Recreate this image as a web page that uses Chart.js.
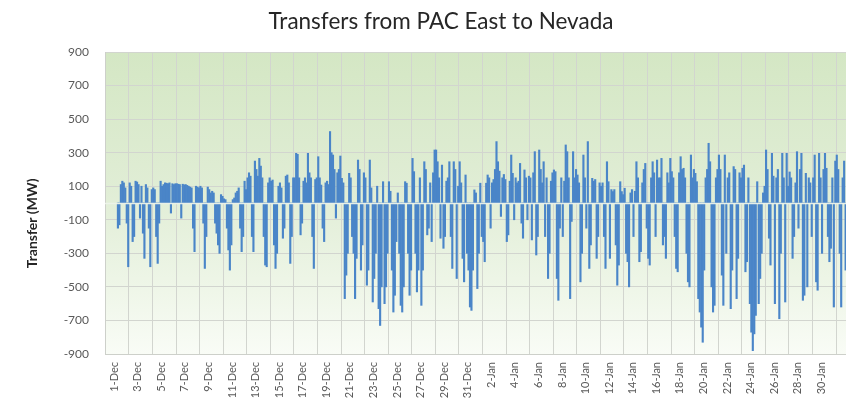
<!DOCTYPE html>
<html>
<head>
<meta charset="utf-8">
<script src="https://cdn.jsdelivr.net/npm/chart.js@4.4.1/dist/chart.umd.min.js"></script>
<style>
    html, body { margin: 0; padding: 0; background: #fff; overflow: hidden; }
    #wrap { width: 898px; height: 412px; }
</style>
</head>
<body>
<div id="wrap"><canvas id="transferChart" width="898" height="412"></canvas></div>
<script>
// Libellés de l'axe X (un tous les deux jours)
const dayLabels = [
    '1-Dec', '3-Dec', '5-Dec', '7-Dec', '9-Dec', '11-Dec', '13-Dec', '15-Dec',
    '17-Dec', '19-Dec', '21-Dec', '23-Dec', '25-Dec', '27-Dec', '29-Dec', '31-Dec',
    '2-Jan', '4-Jan', '6-Jan', '8-Jan', '10-Jan', '12-Jan', '14-Jan', '16-Jan',
    '18-Jan', '20-Jan', '22-Jan', '24-Jan', '26-Jan', '28-Jan', '30-Jan'
];
const yTicks = [900, 700, 500, 300, 100, -100, -300, -500, -700, -900];

// Transferts (MW), 8 relevés par jour (blocs de 3 heures)
const decTransfers = [
    [-150, -130, 110, 130, 120, 90, -120, -380],
    [120, 100, -230, -200, 130, 125, 110, -90],
    [100, -180, -330, 110, 90, -150, -380, 80],
    [90, 80, -200, -360, -120, 130, 100, 110],
    [120, 118, 115, 120, -60, 115, 110, 115],
    [115, 112, 110, -90, 112, 108, 110, 105],
    [100, 95, 90, -150, -290, 100, 95, 90],
    [100, 90, -120, -390, -200, 95, 80, 60],
    [70, 60, -120, -180, -250, -300, 50, 40],
    [25, 20, -150, -280, -400, -250, 20, 30],
    [60, 70, 90, -150, -290, -200, 130, 80],
    [150, 180, 160, -200, -290, 250, 200, 160],
    [266, 220, 150, -200, -370, -380, 120, 150],
    [130, 137, -250, -390, -300, 100, 120, 90],
    [-210, -150, 160, 167, 120, -360, -200, 150],
    [150, 296, 290, 150, -190, -120, 130, 150],
    [120, 296, 180, 150, -200, -390, 140, 150],
    [276, 150, 107, -150, -230, 120, 130, 110],
    [426, 300, 286, 200, -90, 180, 200, 280],
    [147, 120, -570, -430, -300, 177, 150, -200],
    [-300, -570, -330, 256, 200, -400, -250, 180],
    [150, -490, -400, 256, 90, -590, -450, -300],
    [100, -630, -730, -500, 127, -600, -500, -300],
    [127, 70, -400, -650, -550, -230, 60, -300],
    [-610, -650, -500, 127, 118, -300, -550, -400],
    [266, 187, -300, -530, -400, 150, -610, -400],
    [246, 200, -190, -150, 120, -230, 180, 316],
    [316, 246, 150, -210, 226, -270, -200, 130],
    [150, 246, -200, -390, 246, 200, -450, 100],
    [246, 120, -330, -470, 167, -300, -400, -620],
    [-640, -400, 78, 60, -510, -300, 118, -200]
];
const janTransfers = [
    [-230, -350, 118, 167, 150, -150, 120, 140],
    [200, 366, 246, 190, -80, 150, 170, 140],
    [-230, -190, 130, 286, 177, -100, 150, 120],
    [130, 236, -120, -210, 197, 150, -100, 160],
    [150, -220, 180, 306, -310, -200, 316, 200],
    [120, 246, -200, 150, -450, -300, 130, 180],
    [197, 187, -450, -580, -150, 150, -200, 130],
    [346, 306, 150, -570, -110, 306, 150, 200],
    [167, 120, -470, -300, 286, 150, -150, 366],
    [-390, -250, 147, 130, 140, -330, -200, 120],
    [100, 120, -200, -390, 246, 127, -330, 80],
    [68, 80, -250, -490, -370, 127, 68, 50],
    [88, -300, -350, -500, 60, 80, -200, 70],
    [246, 150, -350, -290, 120, 200, 236, -150],
    [-330, -370, 150, 246, 180, -200, 256, 150],
    [150, 266, -250, -200, -330, 180, 120, 266],
    [187, 150, -200, -390, -410, 180, 276, 200],
    [207, 150, -300, -470, -500, 286, 150, 200],
    [177, 127, -570, -650, -740, -830, -400, 150],
    [200, 356, 246, -500, -650, -610, 150, 200],
    [286, 200, -430, -610, 286, -300, 150, 180],
    [-630, -400, 217, 200, -570, -330, 180, 150],
    [207, 226, -410, -350, 150, -600, -770, -880],
    [-780, -670, 127, -600, -450, -300, 60, 100],
    [316, 200, -210, -370, 296, 160, -600, 150],
    [200, -690, -300, 296, 150, -590, 296, 100],
    [185, 150, -330, -200, 120, 306, -150, 200],
    [296, -580, -550, 177, -500, 150, 120, -200],
    [150, 286, -470, -520, 296, 150, -300, 200],
    [296, 207, -200, -350, -270, 150, -620, 250],
    [286, 200, -300, -620, 150, 250, -400, 200]
];

const FONT = 'Lato, "Open Sans", sans-serif';

// Construire les points (x = jour décimal depuis le 1er décembre)
const allDays = decTransfers.concat(janTransfers);
const points = [];
allDays.forEach(function(day, d) {
    day.forEach(function(v, h) {
        points.push({ x: d + (h + 0.5) / day.length, y: v });
    });
});

// Fond dégradé vert de la zone de tracé
const plotBackground = {
    id: 'plotBackground',
    beforeDraw(chart) {
        const { ctx, chartArea } = chart;
        const { left, top, right, bottom } = chartArea;
        ctx.save();
        ctx.fillStyle = '#ffffff';
        ctx.fillRect(0, 0, chart.width, chart.height);
        const g = ctx.createLinearGradient(0, top, 0, bottom);
        g.addColorStop(0, '#d4e7c4');
        g.addColorStop(0.45, '#e0edd5');
        g.addColorStop(0.75, '#edf5e6');
        g.addColorStop(1, '#f9fcf6');
        ctx.fillStyle = g;
        ctx.fillRect(left, top, right - left, bottom - top);
        ctx.restore();
    }
};

// Ligne du zéro par-dessus les barres
const zeroLine = {
    id: 'zeroLine',
    afterDatasetsDraw(chart) {
        const { ctx, chartArea, scales } = chart;
        const y0 = Math.round(scales.y.getPixelForValue(0)) + 0.5;
        ctx.save();
        ctx.strokeStyle = 'rgba(236, 242, 233, 0.95)';
        ctx.lineWidth = 1.5;
        ctx.beginPath();
        ctx.moveTo(chartArea.left, y0);
        ctx.lineTo(chartArea.right, y0);
        ctx.stroke();
        ctx.restore();
    }
};

const ctx = document.getElementById('transferChart');
new Chart(ctx, {
    type: 'bar',
    data: {
        datasets: [{
            label: 'Transfer',
            data: points,
            backgroundColor: '#4a85c8',
            borderWidth: 0,
            barPercentage: 1,
            categoryPercentage: 1
        }]
    },
    options: {
        responsive: false,
        animation: false,
        layout: { padding: { left: 22, right: 38, top: 0, bottom: 0 } },
        plugins: {
            legend: { display: false },
            tooltip: { enabled: false },
            title: {
                display: true,
                text: 'Transfers from PAC East to Nevada',
                color: '#262626',
                font: { family: FONT, size: 22.5, weight: 'normal' },
                padding: { top: 8, bottom: 17 }
            }
        },
        scales: {
            x: {
                type: 'linear',
                min: 0,
                max: 62,
                afterFit: function(scale) { scale.height = 58; },
                afterBuildTicks: function(scale) {
                    scale.ticks = dayLabels.map(function(_, i) { return { value: i * 2 }; });
                },
                grid: { color: '#d2d5cf', drawTicks: false },
                border: { color: '#cdd0ca' },
                ticks: {
                    autoSkip: false,
                    minRotation: 90,
                    maxRotation: 90,
                    labelOffset: -3,
                    padding: 8,
                    color: '#595959',
                    font: { family: FONT, size: 11 },
                    callback: function(value, index) { return dayLabels[index]; }
                }
            },
            y: {
                min: -900,
                max: 900,
                afterFit: function(scale) { scale.width = 83; },
                afterBuildTicks: function(scale) {
                    scale.ticks = yTicks.map(function(v) { return { value: v }; });
                },
                grid: { color: '#d2d5cf', drawTicks: false },
                border: { color: '#cdd0ca' },
                ticks: {
                    padding: 16,
                    color: '#595959',
                    font: { family: FONT, size: 12 }
                },
                title: {
                    display: true,
                    text: 'Transfer (MW)\u00a0\u00a0\u00a0\u00a0\u00a0\u00a0\u00a0\u00a0\u00a0\u00a0\u00a0\u00a0',
                    color: '#262626',
                    font: { family: FONT, size: 14, weight: 'bold' },
                    padding: { top: 2, bottom: 0 }
                }
            }
        }
    },
    plugins: [plotBackground, zeroLine]
});
</script>
</body>
</html>
